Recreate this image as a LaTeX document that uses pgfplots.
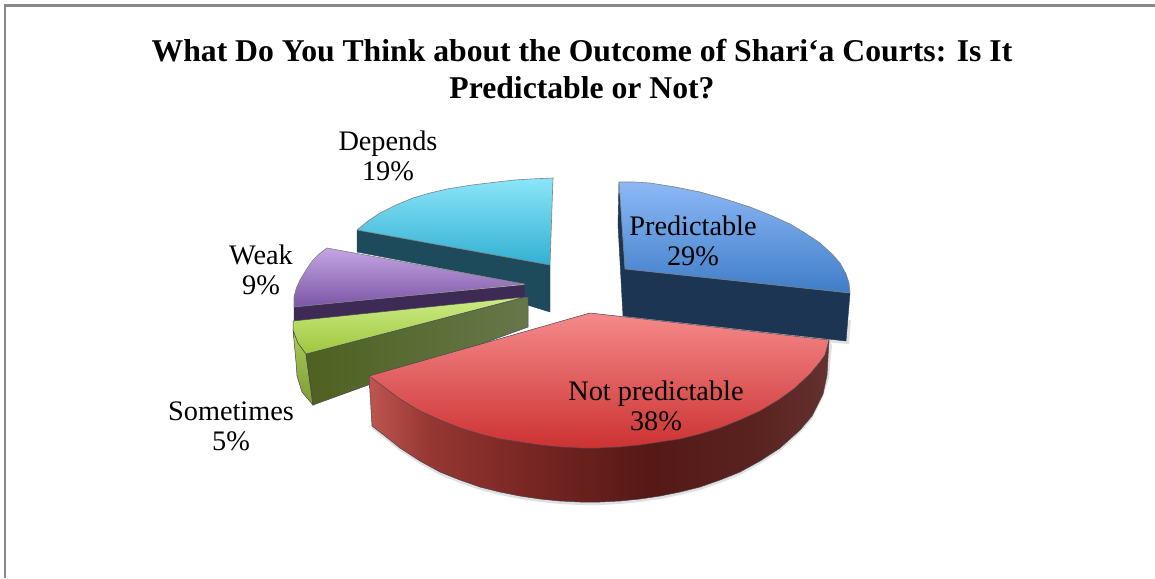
\documentclass[border=0pt]{standalone}
\usepackage{pgfplots}
\pgfplotsset{compat=1.18}
\usepackage{fontspec}
\setmainfont{Liberation Serif}

\definecolor{blueside}{RGB}{28,53,83}
\definecolor{tealside}{RGB}{29,75,92}
\definecolor{purpleside}{RGB}{61,42,85}
\definecolor{edge}{RGB}{70,70,80}
\definecolor{frame}{RGB}{136,136,136}
\definecolor{ra}{RGB}{190,85,80}
\definecolor{rb}{RGB}{150,55,50}
\definecolor{rc}{RGB}{120,38,35}
\definecolor{rd}{RGB}{85,25,22}
\definecolor{re}{RGB}{90,35,32}
\definecolor{rf}{RGB}{100,50,47}
\definecolor{ga}{RGB}{78,97,32}
\definecolor{gb}{RGB}{102,120,74}

\pgfdeclarehorizontalshading{redside}{100bp}{color(0bp)=(ra); color(25bp)=(ra); color(31.6bp)=(rb);
  color(42.5bp)=(rc); color(55.6bp)=(rd); color(67.5bp)=(re); color(75bp)=(rf); color(100bp)=(rf)}
\pgfdeclarehorizontalshading{greenside}{100bp}{color(0bp)=(ga); color(25bp)=(ga); color(75bp)=(gb); color(100bp)=(gb)}

\tikzset{
  toplabel/.style={font=\fontsize{28.4}{30}\selectfont, align=center, text=black},
}

\begin{document}
\begin{tikzpicture}
\begin{axis}[
  scale only axis,
  width=1155bp, height=578bp,
  xmin=0, xmax=1155, ymin=0, ymax=578,
  y dir=reverse,
  hide axis,
]
% page background, keeps the whole axis area in the picture
\addplot[draw=none, fill=white, mark=none] coordinates {(0,0) (1155,0) (1155,578) (0,578) (0,0)};
% frame
\addplot[frame, line width=2.2bp, mark=none] coordinates {(5,578) (5,5.5) (1155,5.5)};

% soft shadows
\addplot[draw=none, fill=black, fill opacity=0.12, mark=none] coordinates {
  (372,429) (385,439) (400,451) (420,464) (440,475) (460,483) (480,490)
  (500,495) (520,499) (540,502) (560,504) (580,505) (600,505) (620,504) (640,502)
  (660,499) (680,495) (700,490) (720,483) (740,475) (760,464) (780,451) (800,433)
  (812,419) (823,397) (829,378) (832,345) (829,340) (372,426) (372,429)};
\addplot[draw=none, fill=black, fill opacity=0.12, mark=none] coordinates {
  (846,320) (851,320) (849,344) (823,342) (846,320)};

% teal slice
\addplot[tealside, fill=tealside, mark=none] coordinates {
  (357,230) (550,265) (550,312) (524,304) (524,284) (357,252) (357,230)};
\addplot[draw=gray, line width=0.6bp, top color={rgb,255:red,139;green,229;blue,248}, bottom color={rgb,255:red,50;green,176;blue,210}, mark=none] coordinates {
  (357,230) (368,221) (380,213) (396,205) (413,198) (430,193) (447,189) (472,185)
  (497,182) (515,180) (530,179) (553,178) (550,265) (357,230)};

% purple slice
\addplot[purpleside, fill=purpleside, mark=none] coordinates {
  (294,307) (524,285) (525,297) (294,321) (294,307)};
\addplot[draw=gray, line width=0.6bp, top color={rgb,255:red,196;green,166;blue,227}, bottom color={rgb,255:red,124;green,85;blue,166}, mark=none] coordinates {
  (327,248) (319,254) (313,260) (306,270) (300,280) (296,289) (294,297) (294,307)
  (524,284) (327,248)};

% green slice
\addplot[draw=edge, line width=0.5bp, top color={rgb,255:red,170;green,205;blue,90}, bottom color={rgb,255:red,125;green,155;blue,50}, mark=none] coordinates {
  (293,330) (298,343) (306,354) (313,405) (302,392) (297,376) (296,362) (293,330)};
\addplot[draw=edge, line width=0.5bp, shading=greenside, mark=none] coordinates {
  (306,354) (525,297) (528,297) (528,327) (313,405) (306,354)};
\addplot[draw=edge, line width=0.5bp, top color={rgb,255:red,205;green,236;blue,133}, bottom color={rgb,255:red,159;green,198;blue,62}, mark=none] coordinates {
  (293,321) (525,297) (306,354) (298,343) (293,330) (293,321)};

% blue slice
\addplot[blueside, fill=blueside, mark=none] coordinates {
  (618,225) (619,182) (625,269) (850,293) (846,341) (623,316) (618,225)};
\addplot[draw=gray, line width=0.6bp, top color={rgb,255:red,141;green,184;blue,245}, bottom color={rgb,255:red,63;green,125;blue,200}, mark=none] coordinates {
  (619,182) (635,182) (650,183) (675,187) (700,192) (725,199) (750,207) (770,215)
  (790,224) (805,233) (820,243) (832,254) (840,263) (846,274) (849,283) (850,293)
  (625,269) (619,182)};

% red slice
\addplot[draw=edge, line width=0.5bp, shading=redside, mark=none] coordinates {
  (369,376) (372,426) (385,436) (400,448) (420,461) (440,472) (460,480) (480,487)
  (500,492) (520,496) (540,499) (560,501) (580,502) (600,502) (620,501) (640,499)
  (660,496) (680,492) (700,487) (720,480) (740,472) (760,461) (780,448) (800,430)
  (812,416) (823,394) (827,375) (829,340) (369,376)};
\addplot[draw=edge, line width=0.5bp, top color={rgb,255:red,245;green,138;blue,138}, bottom color={rgb,255:red,204;green,50;blue,50}, mark=none] coordinates {
  (590,313) (829,340) (825,355) (820,362) (810,374) (795,388) (780,399) (760,411)
  (740,420) (720,428) (700,434) (680,439) (660,442) (640,445) (620,447) (600,448)
  (580,448) (560,447) (540,445) (520,442) (500,439) (480,434) (460,428) (440,420)
  (420,411) (400,399) (380,384) (369,376) (590,313)};

% title and labels
\node[font=\fontsize{31.8}{38}\selectfont\bfseries, align=center] at (axis cs:582,69)
  {What Do You Think about the Outcome of Shari‘a Courts: Is It\\Predictable or Not?};
\node[toplabel] at (axis cs:693,241) {Predictable\\29\%};
\node[toplabel] at (axis cs:656,406) {Not predictable\\38\%};
\node[toplabel] at (axis cs:231,426) {Sometimes\\5\%};
\node[toplabel] at (axis cs:261,270) {Weak\\9\%};
\node[toplabel] at (axis cs:388,156) {Depends\\19\%};
\end{axis}
\end{tikzpicture}
\end{document}
